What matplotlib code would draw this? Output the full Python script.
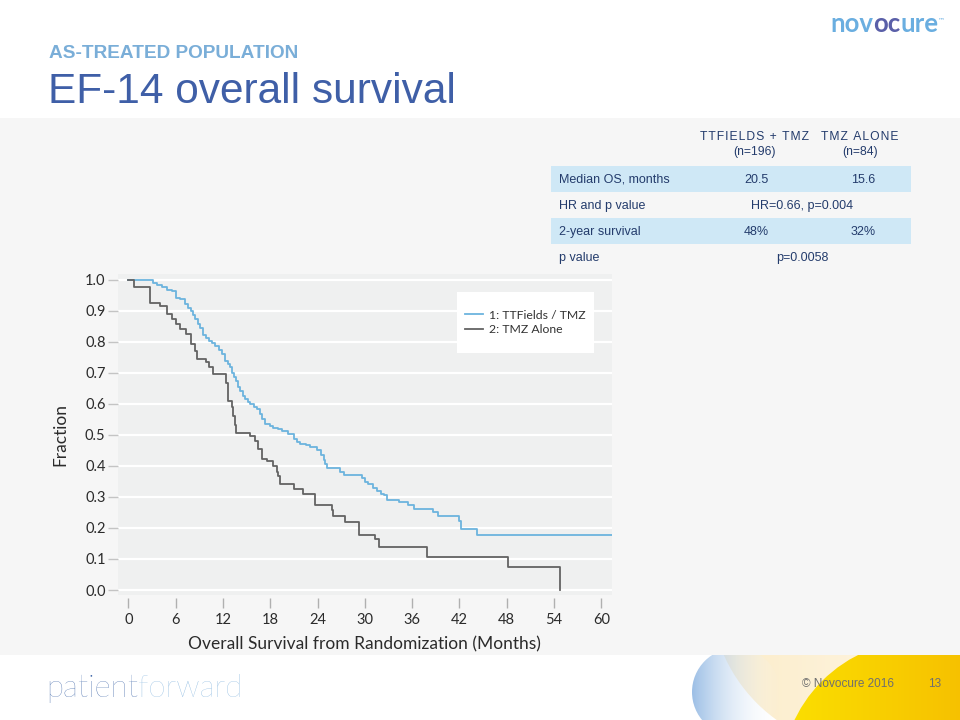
# Curva de supervivencia global EF-14 (Kaplan-Meier) con tabla y decoración de diapositiva
import matplotlib
matplotlib.use('Agg')
import matplotlib.pyplot as plt
import matplotlib.colors as mcolors
from matplotlib.patches import Rectangle, Circle
import numpy as np

# Datos
tt_meses = [0, 3.2, 3.6, 4.3, 4.9, 5.5, 6.0, 6.5, 7.2, 7.6, 7.9, 8.2, 8.5, 8.8, 9.1, 9.5,
            9.8, 10.2, 10.6, 11.0, 11.5, 11.9, 12.3, 12.6, 12.9, 13.1, 13.4, 13.6, 13.9,
            14.2, 14.6, 14.8, 15.2, 15.5, 16.0, 16.3, 16.7, 17.0, 17.4, 18.0, 18.4, 19.0,
            19.5, 20.3, 21.0, 21.4, 21.8, 22.5, 23.1, 23.9, 24.5, 24.8, 25.0, 25.2, 26.9,
            27.3, 29.6, 30.0, 30.4, 31.0, 31.5, 32.0, 32.4, 32.8, 34.3, 35.5, 36.2, 38.7,
            39.3, 41.9, 42.2, 44.2, 61.3]
tt_frac = [1.0, 0.99, 0.984, 0.975, 0.966, 0.962, 0.94, 0.936, 0.92, 0.91, 0.899, 0.886,
           0.872, 0.858, 0.845, 0.823, 0.812, 0.802, 0.795, 0.786, 0.772, 0.759, 0.738,
           0.728, 0.72, 0.699, 0.685, 0.672, 0.655, 0.64, 0.625, 0.615, 0.605, 0.598,
           0.59, 0.584, 0.566, 0.55, 0.534, 0.528, 0.523, 0.518, 0.512, 0.501, 0.485,
           0.478, 0.472, 0.467, 0.462, 0.451, 0.434, 0.42, 0.405, 0.392, 0.38, 0.37,
           0.362, 0.347, 0.34, 0.33, 0.319, 0.31, 0.305, 0.29, 0.282, 0.273, 0.26, 0.25,
           0.239, 0.223, 0.198, 0.177, 0.177]

tmz_meses = [0, 0.67, 2.7, 4.0, 4.9, 5.5, 6.0, 6.6, 7.35, 7.9, 8.5, 8.7, 9.8, 10.2, 10.8,
             12.4, 12.7, 13.1, 13.3, 13.5, 13.7, 15.5, 16.1, 16.5, 16.9, 17.6, 18.4, 18.8,
             19.0, 19.3, 21.0, 22.2, 23.7, 25.8, 26.0, 27.5, 29.2, 31.3, 31.8, 37.9, 48.2,
             54.8]
tmz_frac = [1.0, 0.976, 0.925, 0.914, 0.888, 0.872, 0.858, 0.842, 0.826, 0.794, 0.77,
            0.745, 0.735, 0.72, 0.697, 0.668, 0.609, 0.588, 0.56, 0.53, 0.507, 0.495,
            0.479, 0.453, 0.423, 0.415, 0.40, 0.379, 0.367, 0.341, 0.325, 0.309, 0.274,
            0.257, 0.239, 0.22, 0.178, 0.163, 0.14, 0.105, 0.073, 0.0]

x_ticks = [0, 6, 12, 18, 24, 30, 36, 42, 48, 54, 60]
y_ticks = [0.0, 0.1, 0.2, 0.3, 0.4, 0.5, 0.6, 0.7, 0.8, 0.9, 1.0]

serie_nombres = ['1: TTFields / TMZ', '2: TMZ Alone']

tabla_cols = ['TTFIELDS + TMZ', 'TMZ ALONE']
tabla_n = ['(n=196)', '(n=84)']
tabla_filas = ['Median OS, months', 'HR and p value', '2-year survival', 'p value']
tabla_vals = [['20.5', '15.6'], ['HR=0.66, p=0.004'], ['48%', '32%'], ['p=0.0058']]

# Colores
azul_curva = '#6cb4de'
gris_curva = '#636363'
azul_titulo = '#3f5fa7'
azul_sub = '#7aaed8'
azul_tabla = '#cfe8f6'
texto_tabla = '#243c6c'
fuente_tabla = ['Liberation Sans', 'DejaVu Sans']

fig = plt.figure(figsize=(9.6, 7.2), dpi=100)

# Capa de fondo en coordenadas de píxel
bg = fig.add_axes([0, 0, 1, 1], zorder=0)
bg.set_xlim(0, 960)
bg.set_ylim(720, 0)
bg.axis('off')


def degradado(ax, forma, c_ini, c_fin, x0, x1, y0, y1, a_ini=1.0, a_fin=1.0):
    ax.add_patch(forma)
    forma.set_facecolor('none')
    forma.set_edgecolor('none')
    t = np.linspace(0, 1, 256)
    c0 = np.array(mcolors.to_rgb(c_ini) + (a_ini,))
    c1 = np.array(mcolors.to_rgb(c_fin) + (a_fin,))
    img = (c0[None, :] * (1 - t)[:, None] + c1[None, :] * t[:, None])[None, :, :]
    im = ax.imshow(img, extent=(x0, x1, y1, y0), aspect='auto', zorder=1)
    im.set_clip_path(forma)


# Formas decorativas abajo a la derecha
degradado(bg, Circle((870, 590), 160), '#fcecc8', '#fffaf0', 710, 1030, 430, 750)
degradado(bg, Circle((736, 692), 44), '#9cbfe6', '#ffffff', 692, 780, 648, 736,
          a_ini=1.0, a_fin=0.0)
degradado(bg, Circle((921, 780), 140), '#fbe000', '#f4b000', 781, 1061, 640, 920)
bg.set_xlim(0, 960)
bg.set_ylim(720, 0)

# Banda gris
bg.add_patch(Rectangle((0, 118), 960, 537, facecolor='#f6f6f6', edgecolor='none', zorder=2))

# Títulos
bg.text(49, 58, 'AS-TREATED POPULATION', color=azul_sub, fontsize=13.7, fontweight='bold',
        family='Liberation Sans', va='baseline', zorder=3)
bg.text(48, 103, 'EF-14 overall survival', color=azul_titulo, fontsize=30.5,
        family='Liberation Sans', va='baseline', zorder=3)

# Logo novocure
t1 = bg.text(830, 32, 'nov', color='#6aaee0', fontsize=18.5, fontweight='bold',
             family='Lato', va='baseline', zorder=3)
t2 = bg.annotate('oc', xy=(1, 0), xycoords=t1, color='#5a5fa8', fontsize=18.5,
                 fontweight='bold', family='Lato', va='bottom', zorder=3)
t3 = bg.annotate('ure', xy=(1, 0), xycoords=t2, color='#6aaee0', fontsize=18.5,
                 fontweight='bold', family='Lato', va='bottom', zorder=3)
bg.annotate('™', xy=(1, 0.55), xycoords=t3, color='#6aaee0', fontsize=5,
            family='DejaVu Sans', va='bottom', zorder=3)

# Tabla
for i, (nombre, n) in enumerate(zip(tabla_cols, tabla_n)):
    cx = [755, 860][i]
    espaciado = '\u200a'.join(nombre)
    bg.text(cx, 137, espaciado, ha='center', va='center', fontsize=8.7, color=texto_tabla,
            family=fuente_tabla, zorder=3)
    bg.text(cx, 152, n, ha='center', va='center', fontsize=8.7, color=texto_tabla,
            family=fuente_tabla, zorder=3)

fila_y0 = 166
fila_h = 26
for i, (fila, vals) in enumerate(zip(tabla_filas, tabla_vals)):
    y0 = fila_y0 + i * fila_h
    if i % 2 == 0:
        bg.add_patch(Rectangle((551, y0), 360, fila_h - 0.5, facecolor=azul_tabla,
                               edgecolor='none', zorder=2.5))
    yc = y0 + fila_h / 2 + 1
    bg.text(559, yc, fila, ha='left', va='center', fontsize=9, color=texto_tabla,
            family=fuente_tabla, zorder=3)
    if len(vals) == 2:
        bg.text(756, yc, vals[0], ha='center', va='center', fontsize=9,
                color=texto_tabla, family=fuente_tabla, zorder=3)
        bg.text(863, yc, vals[1], ha='center', va='center', fontsize=9,
                color=texto_tabla, family=fuente_tabla, zorder=3)
    else:
        bg.text(802, yc, vals[0], ha='center', va='center', fontsize=9,
                color=texto_tabla, family=fuente_tabla, zorder=3)

# Pie de página
p1 = bg.text(46, 697, 'patient', color='#3b63a6', fontsize=22.5, fontweight='light',
             family='Lato', va='baseline', zorder=3)
bg.annotate('forward', xy=(1, 0), xycoords=p1, color='#86b6df', fontsize=22.5,
            fontweight='light', family='Lato', va='bottom', zorder=3)
bg.text(848, 684, '© Novocure 2016', ha='center', va='center', fontsize=8.5,
        color='#6f6f6f', family='Liberation Sans', zorder=3)
bg.text(935, 684, '13', ha='center', va='center', fontsize=8.5,
        color='#6f6f6f', family='Liberation Sans', zorder=3)

# Gráfico principal
ax = fig.add_axes([118 / 960, 1 - 595 / 720, (611.7 - 118) / 960, (595 - 274) / 720],
                  zorder=1)
ax.set_facecolor('#eff0f0')

ax.plot(tt_meses, tt_frac, drawstyle='steps-post', color=azul_curva, lw=1.3,
        label=serie_nombres[0], zorder=3)
ax.plot(tmz_meses, tmz_frac, drawstyle='steps-post', color=gris_curva, lw=1.3,
        label=serie_nombres[1], zorder=3)

ax.set_xlim(-1.3, 61.3)
ax.set_ylim(-0.016, 1.018)
ax.set_xticks(x_ticks)
ax.set_yticks(y_ticks)
ax.set_yticklabels([f'{v:.1f}' for v in y_ticks])

ax.grid(axis='y', color='white', lw=1.6)
ax.set_axisbelow(True)
for lado in ['top', 'right', 'left', 'bottom']:
    ax.spines[lado].set_visible(False)
ax.spines['bottom'].set_position(('outward', 2))

ax.tick_params(axis='y', length=7, width=1, color='#c4c4c4', pad=2,
               labelsize=10.5, labelcolor='#2b2b2b')
ax.tick_params(axis='x', length=7, width=1, color='#b0b0b0', pad=4,
               labelsize=10.5, labelcolor='#2b2b2b')
for lbl in ax.get_xticklabels() + ax.get_yticklabels():
    lbl.set_family('Lato')

ax.set_xlabel('Overall Survival from Randomization (Months)', fontsize=12.5,
              family='Lato', color='#2b2b2b')
ax.set_ylabel('Fraction', fontsize=12.5, family='Lato', color='#2b2b2b')
ax.xaxis.set_label_coords(0.5, -0.13)
ax.yaxis.set_label_coords(-0.1, 0.5)

# Leyenda: caja blanca y entradas centradas en ella
caja_x0, caja_x1 = 0.6867, 0.9642
caja_y0, caja_y1 = 0.7539, 0.9439
ax.add_patch(Rectangle((caja_x0, caja_y0), caja_x1 - caja_x0, caja_y1 - caja_y0,
                       transform=ax.transAxes, facecolor='white', edgecolor='none',
                       zorder=4))
leg = ax.legend(loc='center', bbox_to_anchor=((caja_x0 + caja_x1) / 2, (caja_y0 + caja_y1) / 2),
                prop={'family': 'Lato', 'size': 8.8}, frameon=False,
                handlelength=1.5, handletextpad=0.5, borderpad=0, labelspacing=0.3)
leg.set_zorder(5)
for txt in leg.get_texts():
    txt.set_color('#333333')

fig.savefig('out.png', dpi=100)
